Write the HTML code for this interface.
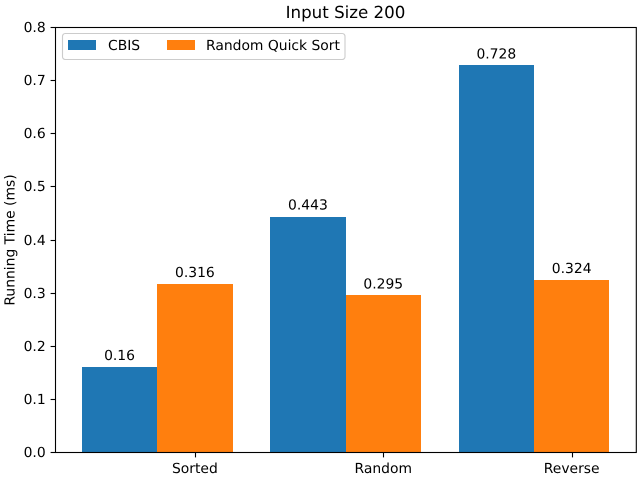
<!DOCTYPE html>
<html>
<head>
<meta charset="utf-8">
<title>Input Size 200</title>
<style>
html,body{margin:0;padding:0;background:#fff;width:640px;height:480px;overflow:hidden}
svg{display:block}
text{font-family:"DejaVu Sans","Liberation Sans",sans-serif;fill:#000;text-rendering:geometricPrecision}
</style>
</head>
<body>
<svg id="chart" width="640" height="480" viewBox="0 0 640 480" xmlns="http://www.w3.org/2000/svg"></svg>
<script>
const categories = ['Sorted', 'Random', 'Reverse'];
const cbisValues = [0.16, 0.443, 0.728];
const quickSortValues = [0.316, 0.295, 0.324];
const cbisLabels = ['0.16', '0.443', '0.728'];
const quickSortLabels = ['0.316', '0.295', '0.324'];
const yTickValues = [0, 0.1, 0.2, 0.3, 0.4, 0.5, 0.6, 0.7, 0.8];
const yTickLabels = ['0.0', '0.1', '0.2', '0.3', '0.4', '0.5', '0.6', '0.7', '0.8'];

const svg = document.getElementById('chart');
const NS = 'http://www.w3.org/2000/svg';
const plot = { left: 55.46, right: 635.73, top: 27, bottom: 452 };
const barWidth = 0.4;
const yMax = 0.8;
const xMin = -0.54;
const xMax = 2.54;
const fontSize = '13.89';

function xScale(v) {
  return plot.left + (v - xMin) / (xMax - xMin) * (plot.right - plot.left);
}
function yScale(v) {
  return plot.bottom - (v / yMax) * (plot.bottom - plot.top);
}
function make(tag, attrs, text) {
  const el = document.createElementNS(NS, tag);
  for (const k in attrs) el.setAttribute(k, attrs[k]);
  if (text !== undefined) el.textContent = text;
  svg.appendChild(el);
  return el;
}
function snappedBar(x0, x1, value, fill) {
  const left = Math.round(x0);
  const right = Math.round(x1);
  const top = Math.round(yScale(value));
  const bottom = Math.round(yScale(0));
  return make('rect', { x: left, y: top, width: right - left, height: bottom - top, fill: fill, 'shape-rendering': 'crispEdges' });
}

categories.forEach(function (cat, i) {
  const blue = snappedBar(xScale(i - barWidth), xScale(i), cbisValues[i], '#1f77b4');
  
  

  const orange = snappedBar(xScale(i), xScale(i + barWidth), quickSortValues[i], '#ff7f0e');
  
  

  const blueLabel = make('text', { x: xScale(i - barWidth / 2), y: yScale(cbisValues[i]) - 7, 'text-anchor': 'middle', 'font-size': fontSize }, cbisLabels[i]);
  
  

  const orangeLabel = make('text', { x: xScale(i + barWidth / 2), y: yScale(quickSortValues[i]) - 7, 'text-anchor': 'middle', 'font-size': fontSize }, quickSortLabels[i]);
  
  

  const tickX = Math.round(xScale(i + barWidth / 2)) + 0.5;
  const tick = make('line', { x1: tickX, x2: tickX, y1: 452.5, y2: 457.4, stroke: '#000', 'stroke-width': 1.1 });
  
  

  const tickLabel = make('text', { x: xScale(i + barWidth / 2), y: 473, 'text-anchor': 'middle', 'font-size': fontSize }, cat);
  
  
});

yTickValues.forEach(function (v, i) {
  const y = Math.round(yScale(v)) + 0.5;
  const tick = make('line', { x1: 50.6, x2: 55.5, y1: y, y2: y, stroke: '#000', 'stroke-width': 1.1 });
  
  

  const label = make('text', { x: 45.7, y: y + 4.5, 'text-anchor': 'end', 'font-size': fontSize }, yTickLabels[i]);
  
  
});

const frame = make('rect', { x: 55.5, y: 27.5, width: 580.8, height: 425, fill: 'none', stroke: '#000', 'stroke-width': 1.1 });



const title = make('text', { x: 345.5, y: 18, 'text-anchor': 'middle', 'font-size': '16.67' }, 'Input Size 200');



const yTitle = make('text', { x: 0, y: 0, 'text-anchor': 'middle', 'font-size': fontSize, transform: 'translate(14.5 240) rotate(-90)' }, 'Running Time (ms)');



const legendBox = make('rect', { x: 62.5, y: 33.5, width: 282.5, height: 26, rx: 2.8, ry: 2.8, fill: '#fff', 'fill-opacity': 0.8, stroke: '#cccccc', 'stroke-width': 1.1 });



const swatchCbis = make('rect', { x: 68, y: 40, width: 28, height: 10, fill: '#1f77b4' });



const legendCbis = make('text', { x: 108, y: 50, 'font-size': fontSize }, 'CBIS');



const swatchSort = make('rect', { x: 167, y: 40, width: 28, height: 10, fill: '#ff7f0e' });



const legendSort = make('text', { x: 206, y: 50, 'font-size': fontSize }, 'Random Quick Sort');


</script>
</body>
</html>
